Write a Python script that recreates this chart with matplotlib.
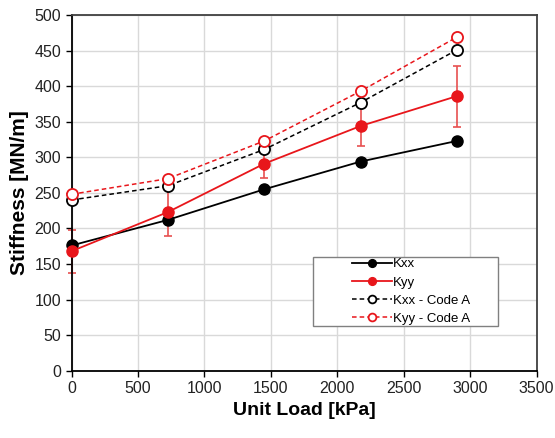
import numpy as np
import matplotlib
matplotlib.use("Agg")
import matplotlib.pyplot as plt
from matplotlib.patches import Rectangle

plt.rcParams['font.family'] = ['Liberation Sans', 'DejaVu Sans']

load = [0, 725, 1450, 2175, 2900]
kxx = [176, 212, 255, 294, 323]
kyy = [168, 223, 291, 344, 386]
kyy_err = [30, 33, 20, 28, 43]
kxx_code = [240, 260, 311, 377, 451]
kyy_code = [248, 270, 323, 393, 469]

fig = plt.figure(figsize=(5.55, 4.38), dpi=100)
ax = fig.add_axes([0.129, 0.1537, 0.838, 0.812])

red = '#e8161b'
eb = ax.errorbar(load, kyy, yerr=kyy_err, fmt='none', ecolor='#e85050', elinewidth=1.2,
                 capsize=3, capthick=1.2, zorder=2)
for art in eb.lines[1] + eb.lines[2]:
    art.set_clip_on(False)
ax.plot(load, kxx, '-o', color='black', lw=1.3, ms=8, label='Kxx', zorder=3, clip_on=False)
ax.plot(load, kyy, '-o', color=red, lw=1.3, ms=8, label='Kyy', zorder=3, clip_on=False)
ax.plot(load, kxx_code, 'o', ls=(0, (3, 2)), color='black', lw=1.1, ms=8, mfc='white',
        mew=1.3, label='Kxx - Code A', zorder=4, clip_on=False)
ax.plot(load, kyy_code, 'o', ls=(0, (3, 2)), color=red, lw=1.1, ms=8, mfc='white',
        mew=1.3, label='Kyy - Code A', zorder=4, clip_on=False)

ax.set_xlim(0, 3500)
ax.set_ylim(0, 500)
ax.set_xticks(np.arange(0, 3501, 500))
ax.set_yticks(np.arange(0, 501, 50))
ax.grid(True, color='#d9d9d9', lw=1)
ax.set_axisbelow(True)
ax.tick_params(direction='out', length=4, width=1, labelsize=11.5, colors='black',
               labelcolor='#222222')
for s in ['left', 'bottom']:
    ax.spines[s].set_color('black')
    ax.spines[s].set_linewidth(1.3)
for s in ['top', 'right']:
    ax.spines[s].set_color('#404040')
    ax.spines[s].set_linewidth(1.3)

ax.set_xlabel('Unit Load [kPa]', fontsize=14, fontweight='bold', labelpad=4)
ax.set_ylabel('Stiffness [MN/m]', fontsize=15, fontweight='bold', labelpad=4)

ax.add_patch(Rectangle((0.519, 0.126), 0.398, 0.193, transform=ax.transAxes,
                       facecolor='white', edgecolor='#808080', lw=1, zorder=5))
leg = ax.legend(loc='center', bbox_to_anchor=(0.73, 0.2225), frameon=False,
                fontsize=9.5, markerscale=0.7, handlelength=3, handletextpad=0.1,
                labelspacing=0.45, borderpad=0)
leg.set_zorder(6)

fig.savefig('out.png', dpi=100)
